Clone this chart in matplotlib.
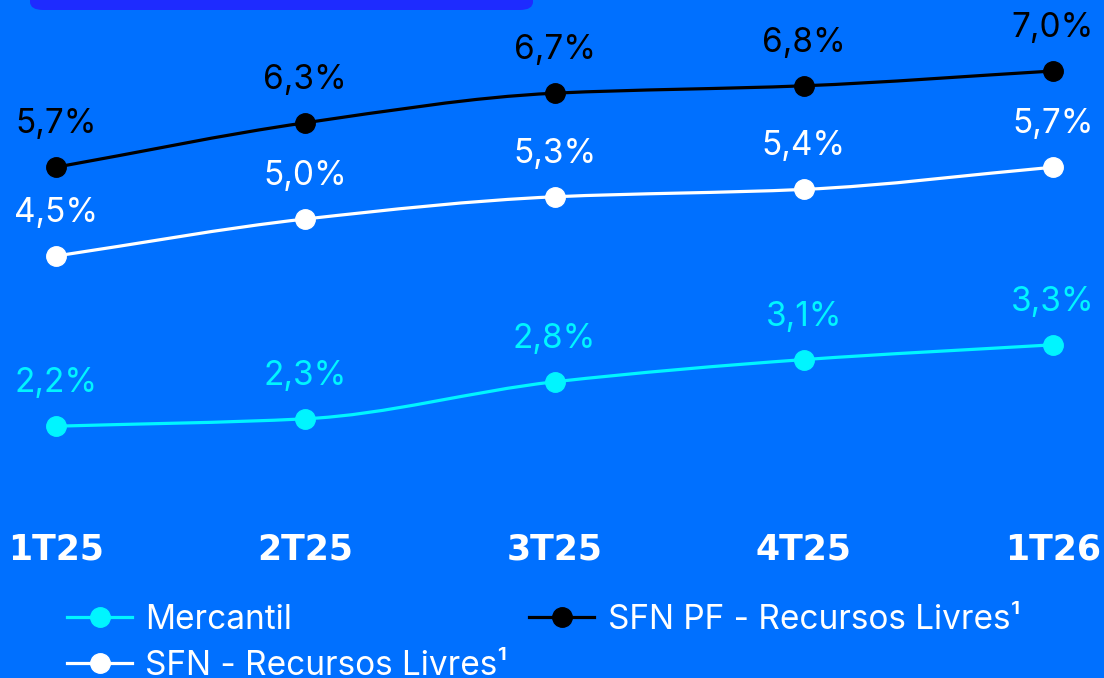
import matplotlib
matplotlib.use("Agg")
import matplotlib.pyplot as plt
from matplotlib.path import Path
from matplotlib.patches import PathPatch, FancyBboxPatch
from matplotlib.lines import Line2D
import numpy as np

plt.rcParams['font.family'] = ['Inter', 'DejaVu Sans']

categories = ["1T25", "2T25", "3T25", "4T25", "1T26"]
mercantil = [2.2, 2.3, 2.8, 3.1, 3.3]
sfn = [4.5, 5.0, 5.3, 5.4, 5.7]
sfn_pf = [5.7, 6.3, 6.7, 6.8, 7.0]

BG = "#0070FF"
CYAN = "#00F5FF"

W, H = 1104, 678
fig = plt.figure(figsize=(W / 100, H / 100), dpi=100, facecolor=BG)
ax = fig.add_axes([0, 0, 1, 1])
ax.set_facecolor(BG)
ax.set_xlim(-56 / 249.25, 4 + (W - 1053) / 249.25)
ax.set_ylim((589 - H) / 74.0, 589 / 74.0)
ax.axis("off")

# top decorative bar
fig.patches.append(FancyBboxPatch((30 / W, 1 - 10 / H), 503 / W, 20 / H,
                                  boxstyle="round,pad=0,rounding_size=0.012",
                                  transform=fig.transFigure, facecolor="#1E2BFF",
                                  edgecolor="none", zorder=0))


def smooth_path(xs, ys):
    xs = np.asarray(xs, float)
    ys = np.asarray(ys, float)
    n = len(xs)
    verts = [(xs[0], ys[0])]
    codes = [Path.MOVETO]
    m = np.zeros(n)
    for i in range(n):
        if i == 0:
            m[i] = (ys[1] - ys[0]) / (xs[1] - xs[0])
        elif i == n - 1:
            m[i] = (ys[-1] - ys[-2]) / (xs[-1] - xs[-2])
        else:
            d0 = (ys[i] - ys[i - 1]) / (xs[i] - xs[i - 1])
            d1 = (ys[i + 1] - ys[i]) / (xs[i + 1] - xs[i])
            m[i] = 0 if d0 * d1 <= 0 else 2 / (1 / d0 + 1 / d1)
    for i in range(n - 1):
        h = xs[i + 1] - xs[i]
        c1 = (xs[i] + h / 3, ys[i] + m[i] * h / 3)
        c2 = (xs[i + 1] - h / 3, ys[i + 1] - m[i + 1] * h / 3)
        verts += [c1, c2, (xs[i + 1], ys[i + 1])]
        codes += [Path.CURVE4] * 3
    return Path(verts, codes)


x = np.arange(len(categories))
series = [(mercantil, CYAN, "Mercantil"),
          (sfn, "white", "SFN - Recursos Livres¹"),
          (sfn_pf, "black", "SFN PF - Recursos Livres¹")]

for vals, col, name in series:
    ax.add_patch(PathPatch(smooth_path(x, vals), facecolor="none", edgecolor=col,
                           lw=2.3, capstyle="round", zorder=2))
    ax.plot(x, vals, linestyle="none", marker="o", ms=14, color=col, zorder=3)
    for xi, v in zip(x, vals):
        ax.annotate(f"{v:.1f}%".replace(".", ","), (xi, v), xytext=(0, 31),
                    textcoords="offset points", ha="center", va="center",
                    fontsize=24, color=col, zorder=4)

for xi, c in zip(x, categories):
    ax.text(xi, (589 - 550) / 74.0, c, ha="center", va="center", fontsize=25,
            fontweight="bold", color="white", family="DejaVu Sans")

handles = [Line2D([], [], color=col, lw=2.3, marker="o", ms=14) for _, col, _ in series]
labels = [s[2] for s in series]
leg = ax.legend(handles, labels,
                ncol=2, loc="upper left", bbox_to_anchor=(67 / W, 1 - 604 / H),
                bbox_transform=fig.transFigure, frameon=False, fontsize=24,
                labelcolor="white", handlelength=1.95, handletextpad=0.4,
                columnspacing=0.65, labelspacing=0.42, borderpad=0, borderaxespad=0)

fig.savefig("out.png", dpi=100, facecolor=BG)
